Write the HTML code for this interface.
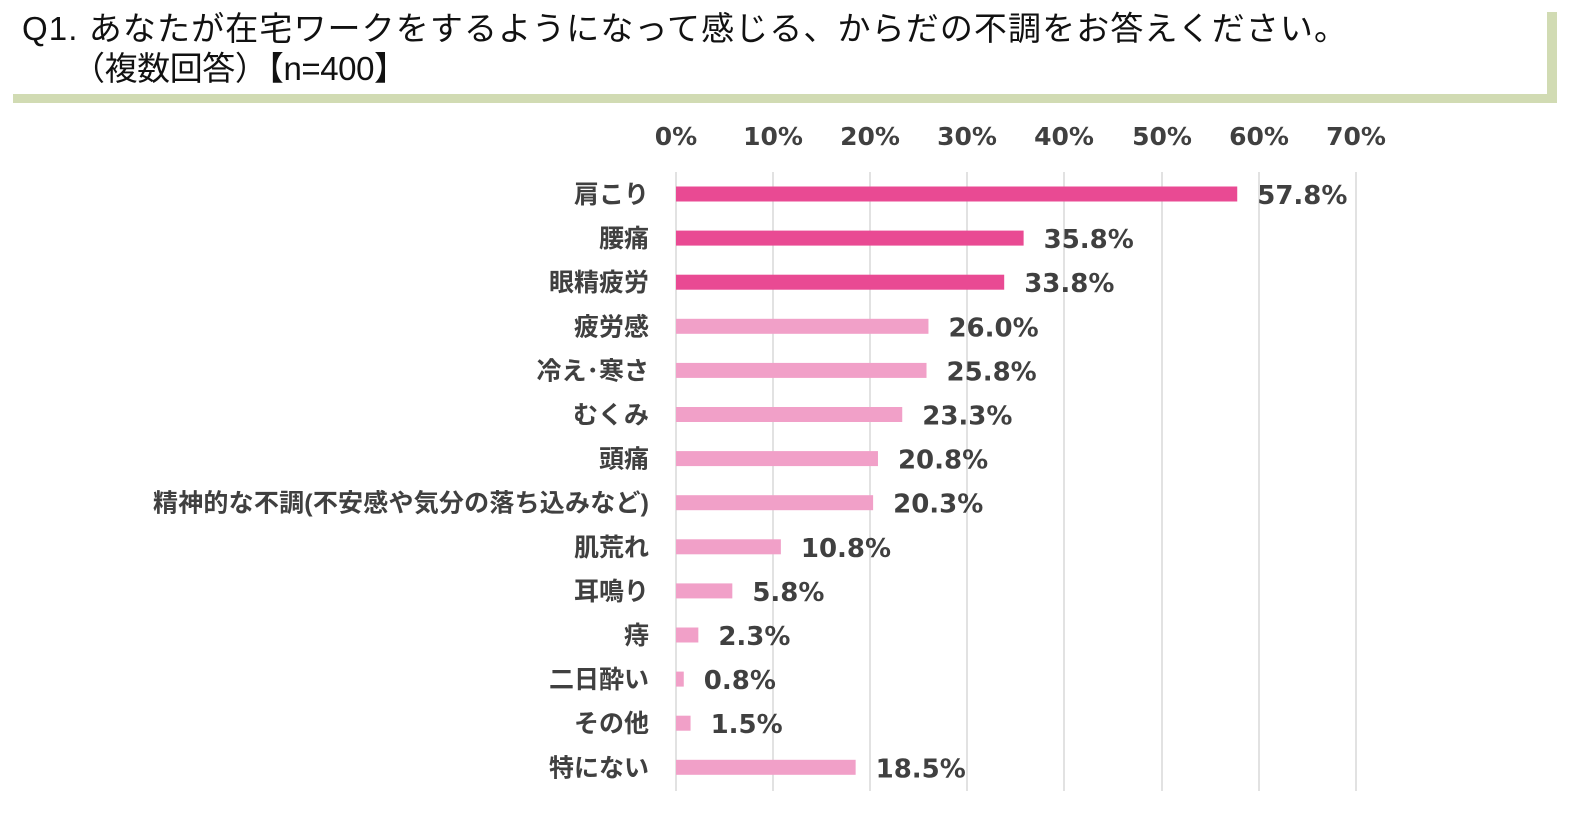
<!DOCTYPE html>
<html><head><meta charset="utf-8"><style>
html,body{margin:0;padding:0;background:#fff;}
body{width:1572px;height:828px;overflow:hidden;position:relative;font-family:"Liberation Sans","Noto Sans CJK JP",sans-serif;}
</style></head><body>
<svg width="1572" height="828" xmlns="http://www.w3.org/2000/svg" style="position:absolute;left:0;top:0">
<rect x="13" y="94" width="1544" height="9" fill="#d1dbb3"/>
<rect x="1547" y="12" width="10" height="91" fill="#d1dbb3"/>
<text x="22" y="40" font-family="Liberation Sans, Noto Sans CJK JP, sans-serif" font-size="33" fill="#111" textLength="1325">Q1. あなたが在宅ワークをするようになって感じる、からだの不調をお答えください。</text>
<text x="72" y="80" font-family="Liberation Sans, Noto Sans CJK JP, sans-serif" font-size="33" fill="#111" textLength="335">（複数回答）【n=400】</text>
<g stroke="#d9d9d9" stroke-width="1.5">
<line x1="676" y1="172" x2="676" y2="791"/><line x1="773" y1="172" x2="773" y2="791"/><line x1="870" y1="172" x2="870" y2="791"/><line x1="967" y1="172" x2="967" y2="791"/><line x1="1064" y1="172" x2="1064" y2="791"/><line x1="1162" y1="172" x2="1162" y2="791"/><line x1="1259" y1="172" x2="1259" y2="791"/><line x1="1356" y1="172" x2="1356" y2="791"/>
</g>
<g font-family="DejaVu Sans, sans-serif" font-size="25" font-weight="bold" fill="#404040" text-anchor="middle">
<text x="676" y="145">0%</text><text x="773" y="145">10%</text><text x="870" y="145">20%</text><text x="967" y="145">30%</text><text x="1064" y="145">40%</text><text x="1162" y="145">50%</text><text x="1259" y="145">60%</text><text x="1356" y="145">70%</text>
</g>
<g id="bars"></g>
</svg>
<script>
var d=[["肩こり",57.8,1],["腰痛",35.8,1],["眼精疲労",33.8,1],["疲労感",26.0],["冷え･寒さ",25.8],["むくみ",23.3],["頭痛",20.8],["精神的な不調(不安感や気分の落ち込みなど)",20.3],["肌荒れ",10.8],["耳鳴り",5.8],["痔",2.3],["二日酔い",0.8],["その他",1.5],["特にない",18.5]];
var g=document.getElementById('bars'),s='';
for(var i=0;i<d.length;i++){var c=194+i*44.1,w=d[i][1]*9.71;
s+='<rect x="676" y="'+(c-7.5)+'" width="'+w+'" height="15" fill="'+(d[i][2]?'#e94a93':'#f1a0c8')+'"/>';
s+='<text x="649" y="'+(c+9)+'" text-anchor="end" font-family="Liberation Sans, Noto Sans CJK JP, sans-serif" font-size="25" font-weight="bold" fill="#404040"'+(i==7?' textLength="496"':'')+'>'+d[i][0]+'</text>';
s+='<text x="'+(676+w+20)+'" y="'+(c+10)+'" font-family="DejaVu Sans, sans-serif" font-size="26" font-weight="bold" fill="#404040">'+d[i][1].toFixed(1)+'%</text>';}
g.innerHTML=s;
</script>
</body></html>
